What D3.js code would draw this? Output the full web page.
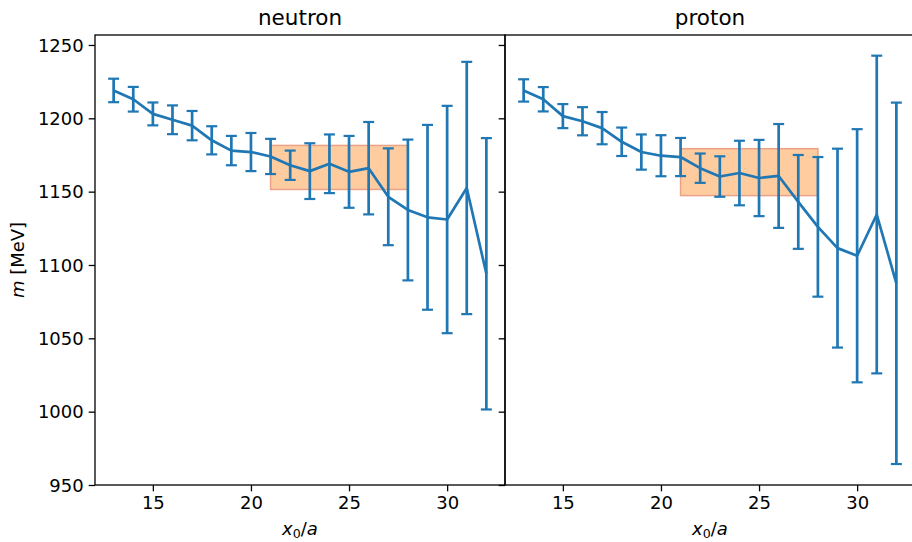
<!DOCTYPE html>
<html>
<head>
<meta charset="utf-8">
<script src="https://cdn.jsdelivr.net/npm/d3@7"></script>
<style>
  html, body { margin: 0; padding: 0; background: #fff; }
  svg { display: block; font-family: "DejaVu Sans", sans-serif; }
</style>
</head>
<body>
<div id="chart"></div>
<script>
// ---- data ----
const x0 = [13, 14, 15, 16, 17, 18, 19, 20, 21, 22, 23, 24, 25, 26, 27, 28, 29, 30, 31, 32];

const neutronMass = [1219, 1213, 1203, 1199, 1195, 1185, 1178, 1177, 1174, 1168,
                     1164, 1169, 1163.5, 1166, 1146.5, 1137.5, 1132.5, 1131, 1152.5, 1094];
const neutronErr  = [8, 8.4, 7.8, 9.8, 10, 9.6, 10, 13, 12, 10,
                     19, 20, 24.5, 31.5, 33, 48, 63, 77.5, 86, 92.5];

const protonMass = [1219, 1213, 1201.5, 1198, 1193.3, 1184, 1177, 1174.5, 1173.6, 1166,
                    1160.3, 1162.7, 1159.3, 1160.7, 1143, 1126, 1111.5, 1106.3, 1134.4, 1087.5];
const protonErr  = [7.6, 8.3, 8.2, 9.6, 11, 9.7, 12, 14, 13, 10,
                    13.8, 22, 26, 35.4, 32, 47.6, 67.8, 86.3, 108.3, 123.2];

// fit band: [x start, x end, lower, upper]
const neutronBand = [21, 28, 1151.5, 1181.5];
const protonBand  = [21, 28, 1147.3, 1179.3];

const panelTitles = ["neutron", "proton"];
const xTicks = [15, 20, 25, 30];
const yTicks = [950, 1000, 1050, 1100, 1150, 1200, 1250];
const xDomain = [12.05, 32.95];
const yDomain = [950, 1256.8];

// ---- layout ----
const W = 912, H = 542;
const plotTop = 35, plotBottom = 485;
const panels = [
  { left: 95,  right: 505, title: panelTitles[0], m: neutronMass, e: neutronErr, band: neutronBand, yLabels: true },
  { left: 505, right: 915, title: panelTitles[1], m: protonMass,  e: protonErr,  band: protonBand,  yLabels: false }
];

const svg = d3.select("#chart").append("svg")
  .attr("width", W).attr("height", H);

const y = d3.scaleLinear().domain(yDomain).range([plotBottom, plotTop]);
const blue = "#1f77b4";

panels.forEach(p => {
  const x = d3.scaleLinear().domain(xDomain).range([p.left, p.right]);
  const g = svg.append("g");

  // band
  g.append("rect")
    .attr("x", x(p.band[0]))
    .attr("y", y(p.band[3]))
    .attr("width", x(p.band[1]) - x(p.band[0]))
    .attr("height", y(p.band[2]) - y(p.band[3]))
    .attr("fill", "#ffcc9f")
    .attr("stroke", "#eba287")
    .attr("stroke-width", 1.5);

  const data = x0.map((d, i) => ({ x: d, m: p.m[i], e: p.e[i] }));

  // error bars
  const eb = g.append("g");
  eb.selectAll("line.bar").data(data).join("line")
    .attr("class", "bar")
    .attr("x1", d => x(d.x)).attr("x2", d => x(d.x))
    .attr("y1", d => y(d.m - d.e)).attr("y2", d => y(d.m + d.e))
    .attr("stroke", blue).attr("stroke-width", 2.7);
  ["lo", "hi"].forEach(k => {
    eb.selectAll("line.cap" + k).data(data).join("line")
      .attr("class", "cap" + k)
      .attr("x1", d => x(d.x) - 5.5).attr("x2", d => x(d.x) + 5.5)
      .attr("y1", d => y(k === "lo" ? d.m - d.e : d.m + d.e))
      .attr("y2", d => y(k === "lo" ? d.m - d.e : d.m + d.e))
      .attr("stroke", blue).attr("stroke-width", 2.2);
  });

  // line
  g.append("path")
    .datum(data)
    .attr("fill", "none")
    .attr("stroke", blue)
    .attr("stroke-width", 2.7)
    .attr("stroke-linejoin", "round")
    .attr("d", d3.line().x(d => x(d.x)).y(d => y(d.m)));

  // axes
  const xAxis = d3.axisBottom(x).tickValues(xTicks).tickSize(6.3).tickPadding(5).tickFormat(d3.format("d"));
  const gx = svg.append("g").attr("transform", `translate(0,${plotBottom})`).call(xAxis);
  gx.select(".domain").remove();
  gx.selectAll(".tick line").attr("stroke", "#000").attr("stroke-width", 1.3);
  gx.selectAll(".tick text").attr("font-size", 18).attr("fill", "#000")
    .attr("font-family", "DejaVu Sans");

  const yAxis = d3.axisLeft(y).tickValues(yTicks).tickSize(6.3).tickPadding(5)
    .tickFormat(p.yLabels ? d3.format("d") : () => "");
  const gy = svg.append("g").attr("transform", `translate(${p.left},0)`).call(yAxis);
  gy.select(".domain").remove();
  gy.selectAll(".tick line").attr("stroke", "#000").attr("stroke-width", 1.3);
  gy.selectAll(".tick text").attr("font-size", 18).attr("fill", "#000")
    .attr("font-family", "DejaVu Sans").attr("dy", "0.34em");

  // spines
  svg.append("rect")
    .attr("x", p.left).attr("y", plotTop)
    .attr("width", p.right - p.left).attr("height", plotBottom - plotTop)
    .attr("fill", "none").attr("stroke", "#000").attr("stroke-width", 1.3);

  // title
  svg.append("text")
    .attr("x", (p.left + p.right) / 2).attr("y", 25)
    .attr("text-anchor", "middle")
    .attr("font-size", 21.5)
    .attr("fill", "#000")
    .text(p.title);

  // x label: x_0/a
  const xl = svg.append("text")
    .attr("x", (p.left + p.right) / 2).attr("y", 535)
    .attr("text-anchor", "middle")
    .attr("font-size", 18)
    .attr("fill", "#000");
  xl.append("tspan").attr("font-style", "italic").text("x");
  xl.append("tspan").attr("font-size", 12.6).attr("dy", 3).text("0");
  xl.append("tspan").attr("dy", -3).text("/");
  xl.append("tspan").attr("font-style", "italic").text("a");
});

// y label
const yl = svg.append("text")
  .attr("transform", `translate(24,${(plotTop + plotBottom) / 2}) rotate(-90)`)
  .attr("text-anchor", "middle")
  .attr("font-size", 18)
  .attr("fill", "#000");
yl.append("tspan").attr("font-style", "italic").text("m");
yl.append("tspan").text(" [MeV]");
</script>
</body>
</html>
